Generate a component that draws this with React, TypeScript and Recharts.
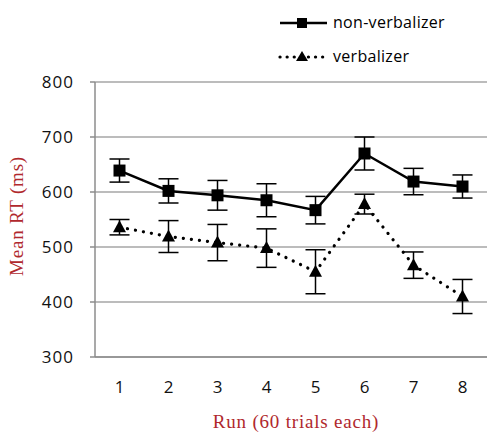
import React from 'react';
import { LineChart, Line, XAxis, YAxis, CartesianGrid, ErrorBar, Label } from 'recharts';

const runs = ['1', '2', '3', '4', '5', '6', '7', '8'];
const nonVerbalizer = [639, 602, 594, 585, 567, 670, 619, 610];
const nonVerbalizerErr = [21, 22, 27, 30, 25, 30, 24, 21];
const verbalizer = [536, 519, 508, 498, 455, 578, 467, 410];
const verbalizerErr = [14, 29, 33, 35, 40, 18, 24, 31];
const yTicks = [300, 400, 500, 600, 700, 800];

const data = runs.map((run, i) => ({
    run,
    nv: nonVerbalizer[i],
    nvErr: nonVerbalizerErr[i],
    v: verbalizer[i],
    vErr: verbalizerErr[i],
}));

const TICK_FONT = '"Open Sans", sans-serif';
const SERIF = '"Liberation Serif", serif';
const LABEL_COLOR = '#b0282d';

const SquareDot = (props: any) => {
    const { cx, cy } = props;
    if (cx == null || cy == null) return null;
    return <rect x={cx - 6} y={cy - 6} width={12} height={12} fill="#000" />;
};

const TriangleDot = (props: any) => {
    const { cx, cy } = props;
    if (cx == null || cy == null) return null;
    return <path d={`M${cx},${cy - 7} L${cx + 6.5},${cy + 5} L${cx - 6.5},${cy + 5} Z`} fill="#000" />;
};

// legend drawn as an overlay so it doesn't eat into the plot area
const LegendBox = () => (
    <svg width={215} height={75} style={{ display: 'block' }}>
        <line x1={10} y1={23} x2={57} y2={23} stroke="#000" strokeWidth={2.5} />
        <rect x={27} y={18} width={10} height={10} fill="#000" />
        <text x={63} y={28} fontFamily={TICK_FONT} fontSize={16} letterSpacing={0.3} fill="#000">non-verbalizer</text>
        <line x1={10} y1={57} x2={56} y2={57} stroke="#000" strokeWidth={3.2} strokeDasharray="0.1 7" strokeLinecap="round" />
        <path d="M32,51 L38,61 L26,61 Z" fill="#000" />
        <text x={63} y={62} fontFamily={TICK_FONT} fontSize={16} letterSpacing={0.3} fill="#000">verbalizer</text>
    </svg>
);

const App: React.FC = () => {
    return (
        <div style={{ position: 'absolute', left: 0, top: 0, width: 487, height: 432, background: '#fff' }}>
            <LineChart
                width={487}
                height={432}
                data={data}
                margin={{ top: 82, right: 0, bottom: 5, left: 0 }}
            >
                <CartesianGrid stroke="#a6a6a6" strokeWidth={1.5} vertical={false} />
                <XAxis
                    dataKey="run"
                    stroke="#8c8c8c"
                    strokeWidth={1.5}
                    tickLine={false}
                    tickSize={0}
                    tickMargin={24}
                    height={70}
                    padding={{ left: 24.5, right: 24.5 }}
                    tick={{ fill: '#111', fontFamily: TICK_FONT, fontSize: 17 }}
                >
                    <Label
                        content={() => (
                            <text x={296} y={428} textAnchor="middle" fontFamily={SERIF} fontSize={19} letterSpacing={0.8} fill={LABEL_COLOR}>
                                Run (60 trials each)
                            </text>
                        )}
                    />
                </XAxis>
                <YAxis
                    width={95}
                    domain={[300, 800]}
                    ticks={yTicks}
                    interval={0}
                    stroke="#8c8c8c"
                    strokeWidth={1.5}
                    tickSize={5}
                    tickMargin={16}
                    tick={{ fill: '#111', fontFamily: TICK_FONT, fontSize: 17, letterSpacing: 1 }}
                >
                    <Label
                        content={() => (
                            <text
                                x={0}
                                y={0}
                                transform="translate(23,216) rotate(-90)"
                                textAnchor="middle"
                                fontFamily={SERIF}
                                fontSize={19}
                                letterSpacing={0.8}
                                fill={LABEL_COLOR}
                            >
                                Mean RT (ms)
                            </text>
                        )}
                    />
                </YAxis>
                <Line
                    dataKey="v"
                    name="verbalizer"
                    stroke="#000"
                    strokeWidth={3.2}
                    strokeDasharray="0.1 8"
                    strokeLinecap="round"
                    dot={<TriangleDot />}
                    activeDot={false}
                    isAnimationActive={false}
                >
                    <ErrorBar dataKey="vErr" width={10} stroke="#000" strokeWidth={1.5} direction="y" />
                </Line>
                <Line
                    dataKey="nv"
                    name="non-verbalizer"
                    stroke="#000"
                    strokeWidth={2.5}
                    dot={<SquareDot />}
                    activeDot={false}
                    isAnimationActive={false}
                >
                    <ErrorBar dataKey="nvErr" width={10} stroke="#000" strokeWidth={1.5} direction="y" />
                </Line>
            </LineChart>
            <div style={{ position: 'absolute', left: 270, top: 0 }}>
                <LegendBox />
            </div>
        </div>
    );
};

export default App;
